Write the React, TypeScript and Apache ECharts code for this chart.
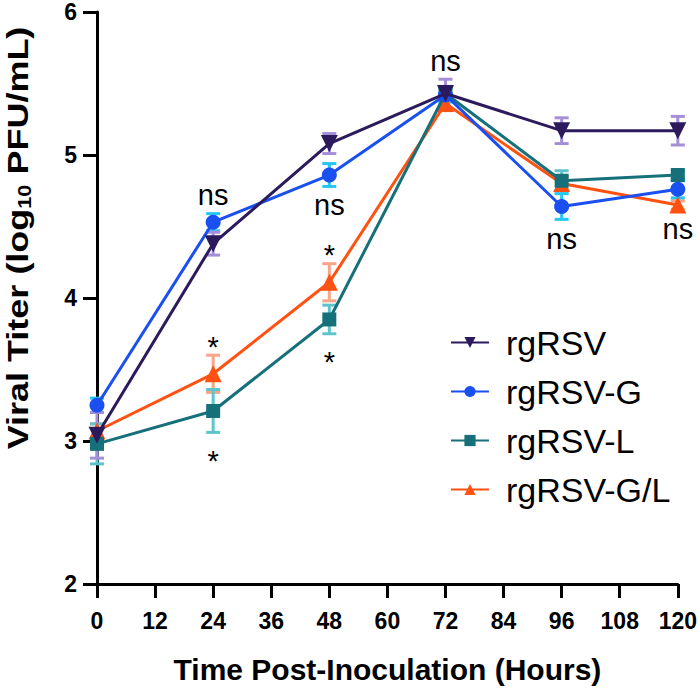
import React, { useEffect, useRef } from "react";
import * as echarts from "echarts";

const hours = [0, 24, 48, 72, 96, 120];
const seriesNames = ["rgRSV", "rgRSV-G", "rgRSV-L", "rgRSV-G/L"];
const rgRSV = [3.04, 4.38, 5.08, 5.43, 5.17, 5.17];
const rgRSV_G = [3.25, 4.53, 4.86, 5.42, 4.64, 4.76];
const rgRSV_L = [2.98, 3.21, 3.85, 5.43, 4.82, 4.86];
const rgRSV_GL = [3.07, 3.47, 4.11, 5.36, 4.8, 4.65];
const rgRSV_err = [0.16, 0.08, 0.07, 0.1, 0.09, 0.1];
const rgRSV_G_err = [0.05, 0.06, 0.08, 0.05, 0.09, 0.06];
const rgRSV_L_err = [0.14, 0.15, 0.1, 0.05, 0.07, 0.03];
const rgRSV_GL_err = [0.05, 0.13, 0.13, 0.05, 0.05, 0.03];
const xTicks = [0, 12, 24, 36, 48, 60, 72, 84, 96, 108, 120];
const yTicks = [2, 3, 4, 5, 6];
const annX = [24, 24, 24, 48, 48, 48, 72, 96, 120];
const annY = [4.72, 3.66, 2.86, 4.65, 4.3, 3.55, 5.66, 4.41, 4.48];
const annText = ["ns", "*", "*", "ns", "*", "*", "ns", "ns", "ns"];

const lineColors = ["#2b1a5c", "#1a4ff0", "#16707a", "#ff5212"];
const errColors = ["#a58fd8", "#25c6f2", "#5ec4cb", "#f8a486"];
const symbols = ["triangle", "circle", "rect", "triangle"];
const symbolSizes = [17, 15, 14, 17];
const rotations = [180, 0, 0, 0];
const SANS = "Liberation Sans, Arial, Helvetica, sans-serif";

export default function App() {
  const ref = useRef<HTMLDivElement>(null);
  useEffect(() => {
    document.body.style.margin = "0";
    if (!ref.current) return;
    const chart = echarts.init(ref.current, undefined, { renderer: "svg" });
    const values = [rgRSV, rgRSV_G, rgRSV_L, rgRSV_GL];
    const errs = [rgRSV_err, rgRSV_G_err, rgRSV_L_err, rgRSV_GL_err];
    const order = [3, 2, 1, 0];
    const series: any[] = [];
    order.forEach((i) => {
      series.push({
        name: seriesNames[i] + "-err",
        type: "custom",
        silent: true,
        z: 2,
        data: hours.map((h, k) => [h, values[i][k] - errs[i][k], values[i][k] + errs[i][k]]),
        renderItem: (params: any, api: any) => {
          const x = api.value(0);
          const lo = api.coord([x, api.value(1)]);
          const hi = api.coord([x, api.value(2)]);
          const hw = 7;
          const st = { stroke: errColors[i], lineWidth: 3 };
          return {
            type: "group",
            children: [
              { type: "line", shape: { x1: lo[0], y1: lo[1], x2: hi[0], y2: hi[1] }, style: st },
              { type: "line", shape: { x1: lo[0] - hw, y1: lo[1], x2: lo[0] + hw, y2: lo[1] }, style: st },
              { type: "line", shape: { x1: hi[0] - hw, y1: hi[1], x2: hi[0] + hw, y2: hi[1] }, style: st },
            ],
          };
        },
      });
    });
    order.forEach((i) => {
      series.push({
        name: seriesNames[i],
        type: "line",
        z: 3 + (3 - i),
        data: hours.map((h, k) => [h, values[i][k]]),
        symbol: symbols[i],
        symbolSize: symbolSizes[i],
        symbolRotate: rotations[i],
        showAllSymbol: true,
        lineStyle: { color: lineColors[i], width: 3 },
        itemStyle: { color: lineColors[i], borderWidth: 0 },
      });
    });
    series.push({
      name: "annotations",
      type: "custom",
      silent: true,
      z: 10,
      data: annX.map((x, k) => [x, annY[k], k]),
      renderItem: (params: any, api: any) => {
        const p = api.coord([api.value(0), api.value(1)]);
        return {
          type: "text",
          x: p[0],
          y: p[1],
          style: {
            text: annText[api.value(2)],
            fill: "#000",
            fontSize: 29,
            fontFamily: SANS,
            align: "center",
            verticalAlign: "middle",
          },
        };
      },
    });
    chart.setOption({
      animation: false,
      backgroundColor: "#fff",
      grid: { left: 97, right: 22, top: 12, bottom: 106, containLabel: false },
      xAxis: {
        type: "value",
        min: 0,
        max: 120,
        interval: 12,
        name: "Time Post-Inoculation (Hours)",
        nameLocation: "middle",
        nameGap: 70,
        nameTextStyle: { fontSize: 30, fontWeight: "bold", color: "#000", fontFamily: SANS },
        axisLine: { lineStyle: { color: "#000", width: 3 } },
        axisTick: { show: true, inside: false, length: 14, lineStyle: { color: "#000", width: 3 } },
        axisLabel: {
          fontSize: 23,
          lineHeight: 23,
          fontWeight: "bold",
          color: "#000",
          margin: 25,
          fontFamily: SANS,
          formatter: (v: number) => (xTicks.includes(v) ? String(v) : ""),
        },
        splitLine: { show: false },
      },
      yAxis: {
        type: "value",
        min: 2,
        max: 6,
        interval: 1,
        axisLine: { show: true, lineStyle: { color: "#000", width: 3 } },
        axisTick: { show: true, inside: false, length: 14, lineStyle: { color: "#000", width: 3 } },
        axisLabel: {
          fontSize: 23,
          lineHeight: 23,
          fontWeight: "bold",
          color: "#000",
          margin: 20,
          fontFamily: SANS,
          formatter: (v: number) => (yTicks.includes(v) ? String(v) : ""),
        },
        splitLine: { show: false },
      },
      legend: {
        orient: "vertical",
        left: 445,
        top: 320,
        itemWidth: 38,
        itemHeight: 14,
        itemGap: 14,
        data: seriesNames,
        textStyle: { fontSize: 34, color: "#000", lineHeight: 35, fontFamily: SANS, padding: [0, 0, 0, 12] },
      },
      graphic: [
        {
          type: "text",
          x: 18,
          y: 238,
          rotation: Math.PI / 2,
          scaleX: 1.2,
          style: {
            text: "Viral Titer (log{sub|10} PFU/mL)",
            align: "center",
            verticalAlign: "middle",
            fontSize: 30,
            lineHeight: 31,
            fontWeight: "bold",
            fontFamily: SANS,
            fill: "#000",
            rich: {
              sub: { fontSize: 18, fontWeight: "bold", verticalAlign: "bottom", lineHeight: 27, fontFamily: SANS },
            },
          },
        },
      ],
      series,
    });
    return () => chart.dispose();
  }, []);
  return <div ref={ref} style={{ width: 700, height: 690 }} />;
}
